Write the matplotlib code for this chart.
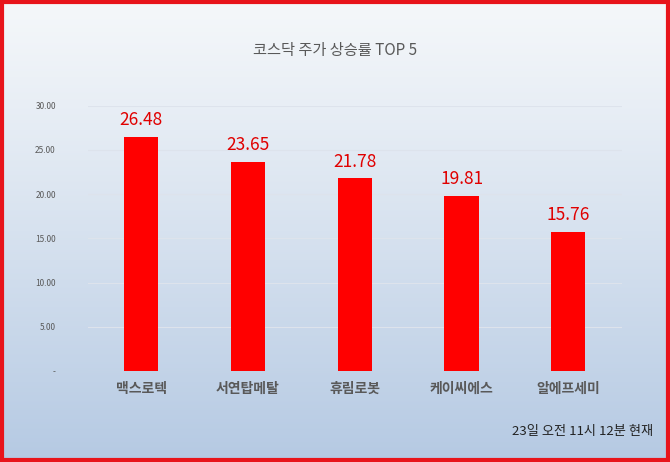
import matplotlib.pyplot as plt
import numpy as np
from matplotlib.patches import Rectangle

plt.rcParams['font.family'] = ['Noto Sans CJK KR', 'DejaVu Sans']

names = ['맥스로텍', '서연탑메탈', '휴림로봇', '케이씨에스', '알에프세미']
values = [26.48, 23.65, 21.78, 19.81, 15.76]
yticks = [0, 5, 10, 15, 20, 25, 30]
ytick_labels = ['-', '5.00', '10.00', '15.00', '20.00', '25.00', '30.00']
title = '코스닥 주가 상승률 TOP 5'
note = '23일 오전 11시 12분 현재'

fig = plt.figure(figsize=(6.7, 4.62), dpi=100)

# background gradient
bg = fig.add_axes([0, 0, 1, 1], zorder=0)
grad = np.linspace(0, 1, 256).reshape(-1, 1)
c_top = np.array([0.96, 0.97, 0.98])
c_bot = np.array([0.71, 0.79, 0.89])
img = c_top + (c_bot - c_top) * grad[..., None] ** 1.1
bg.imshow(img, aspect='auto', extent=[0, 1, 0, 1], origin='upper')
bg.set_xlim(0, 1)
bg.set_ylim(0, 1)
bg.axis('off')
bg.add_patch(Rectangle((0.003, 0.004), 0.994, 0.992, fill=False,
                       edgecolor='#e8141b', linewidth=3, transform=bg.transAxes))

ax = fig.add_axes([0.131, 0.197, 0.797, 0.574], zorder=1)
ax.patch.set_alpha(0)
x = np.arange(len(names))
ax.bar(x, values, width=0.32, color='#ff0000', zorder=3)
for xi, v in zip(x, values):
    ax.text(xi, v + 0.9, f'{v:.2f}', ha='center', va='bottom',
            color='#e00000', fontsize=12.5)

ax.set_ylim(0, 30)
ax.set_xlim(-0.5, len(names) - 0.5)
ax.set_yticks(yticks)
ax.set_yticklabels(ytick_labels, fontsize=6, color='#595959')
ax.set_xticks(x)
ax.set_xticklabels(names, fontsize=10, color='#595959', fontweight='bold')
ax.tick_params(axis='both', length=0)
ax.tick_params(axis='y', pad=23)
ax.tick_params(axis='x', pad=8)
ax.yaxis.grid(True, color='#dde3ec', linewidth=0.8, zorder=0)
for s in ax.spines.values():
    s.set_visible(False)

fig.text(0.5, 0.89, title, ha='center', va='center', fontsize=11, color='#595959')
fig.text(0.975, 0.065, note, ha='right', va='center', fontsize=9.5, color='#222222')

fig.savefig('out.png', dpi=100)
